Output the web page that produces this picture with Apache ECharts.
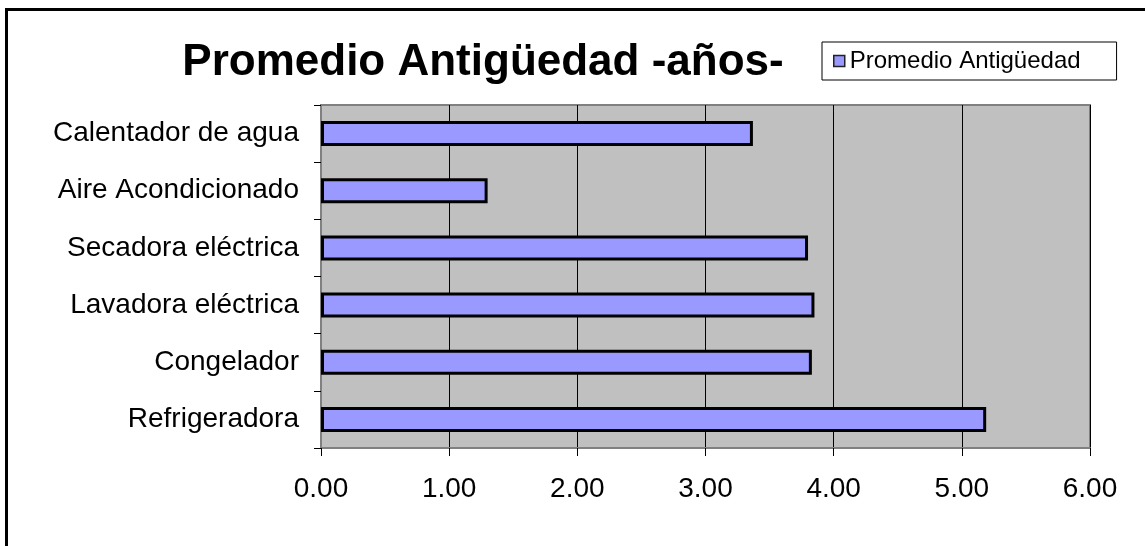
<!DOCTYPE html>
<html>
<head>
<meta charset="utf-8">
<script src="https://cdn.jsdelivr.net/npm/echarts@6/dist/echarts.min.js"></script>
<style>
  html, body { margin: 0; padding: 0; background: #fff; }
  #chart { width: 1145px; height: 546px; }
</style>
</head>
<body>
<div id="chart"></div>
<script>
// top to bottom, as in the picture
const categories = ['Calentador de agua', 'Aire Acondicionado', 'Secadora eléctrica', 'Lavadora eléctrica', 'Congelador', 'Refrigeradora']
const antiguedad = [3.37, 1.30, 3.80, 3.85, 3.83, 5.19]
const xTicks = [0, 1, 2, 3, 4, 5, 6]

const font = '"Liberation Sans", Arial, sans-serif'
const chart = echarts.init(document.getElementById('chart'))

chart.setOption({
  backgroundColor: '#fff',
  animation: false,
  title: {
    text: 'Promedio Antigüedad -años-',
    left: 478,
    top: 36,
    textAlign: 'center',
    textStyle: { fontFamily: font, fontSize: 44, fontWeight: 'bold', color: '#000' }
  },
  legend: {
    left: 822,
    top: 42,
    itemWidth: 11,
    itemHeight: 11,
    padding: [7, 36, 7, 11],
    backgroundColor: '#fff',
    borderColor: '#000',
    borderWidth: 1,
    borderRadius: 0,
    icon: 'rect',
    textStyle: { fontFamily: font, fontSize: 24, color: '#000' },
    itemStyle: { borderColor: '#222', borderWidth: 1.5 },
    data: ['Promedio Antigüedad']
  },
  graphic: [{
    type: 'polyline',
    shape: { points: [[6.5, 546], [6.5, 9.5], [1145, 9.5]] },
    style: { stroke: '#000', lineWidth: 3, fill: null }
  }],
  grid: {
    left: 321,
    right: 55,
    top: 105,
    bottom: 98,
    show: true,
    backgroundColor: '#c0c0c0',
    borderColor: '#808080',
    borderWidth: 2
  },
  xAxis: {
    type: 'value',
    min: xTicks[0],
    max: xTicks[xTicks.length - 1],
    interval: 1,
    axisLine: { show: true, lineStyle: { color: '#808080', width: 2 } },
    axisTick: { show: true, length: 8, lineStyle: { color: '#000' } },
    axisLabel: {
      margin: 27,
      fontFamily: font,
      fontSize: 28,
      color: '#000',
      formatter: v => v.toFixed(2)
    },
    splitLine: { show: true, lineStyle: { color: '#000', width: 1 } }
  },
  yAxis: {
    type: 'category',
    data: categories,
    inverse: true,
    axisLine: { show: true, lineStyle: { color: '#808080', width: 2 } },
    axisTick: { show: true, length: 7, lineStyle: { color: '#000' } },
    axisLabel: { margin: 22, fontFamily: font, fontSize: 28, color: '#000' },
    splitLine: { show: false }
  },
  series: [{
    name: 'Promedio Antigüedad',
    type: 'bar',
    data: antiguedad,
    barWidth: 25,
    itemStyle: { color: '#9999ff', borderColor: '#000', borderWidth: 3 }
  }]
})
</script>
</body>
</html>
